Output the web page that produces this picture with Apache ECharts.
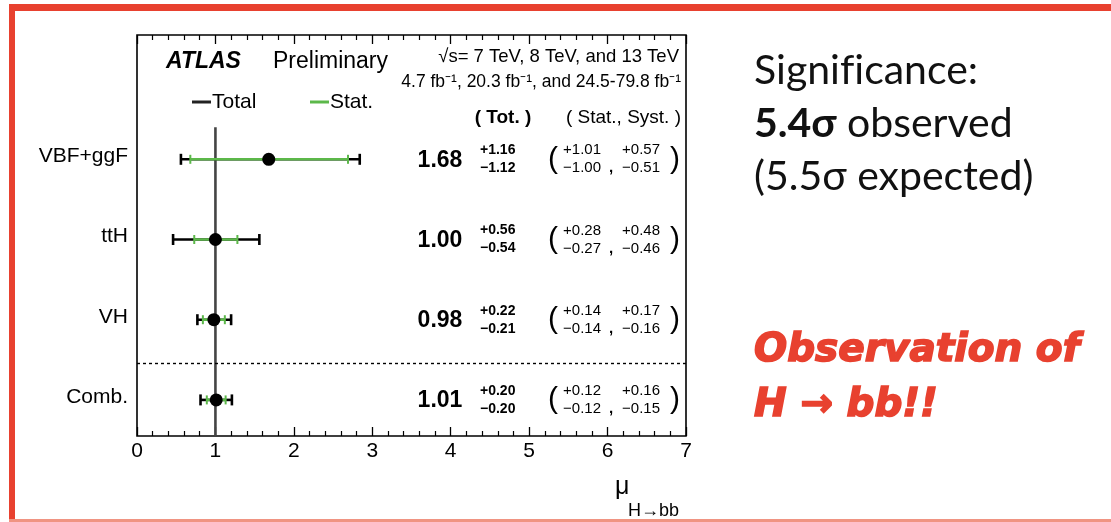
<!DOCTYPE html>
<html>
<head>
<meta charset="utf-8">
<script src="https://cdn.jsdelivr.net/npm/echarts@6/dist/echarts.min.js"></script>
<style>html,body{margin:0;padding:0;background:#fff;}#c{width:1111px;height:522px;}</style>
</head>
<body>
<div id="c"></div>
<script>
// ---- data ----
const categories = ['VBF+ggF', 'ttH', 'VH', 'Comb.'];
const mu      = [1.68, 1.00, 0.98, 1.01];
const totUp   = [1.16, 0.56, 0.22, 0.20];
const totDn   = [1.12, 0.54, 0.21, 0.20];
const statUp  = [1.01, 0.28, 0.14, 0.12];
const statDn  = [1.00, 0.27, 0.14, 0.12];
const systUp  = [0.57, 0.48, 0.17, 0.16];
const systDn  = [0.51, 0.46, 0.16, 0.15];
const xTicks  = [0, 1, 2, 3, 4, 5, 6, 7];
const smLine  = [[1, -0.45], [1, 3.4]];
const separatorY = 0.46;

// ---- style / layout ----
const F = '"Liberation Sans", Arial, Helvetica, sans-serif';
const R = 'Lato, "Open Sans", sans-serif';
const GREEN = '#5cb84a';
const RED = '#e8412f';
const fmt = v => v.toFixed(2);
const nRows = categories.length;
const rowData = categories.map((c, i) => [mu[i], nRows - 1 - i, i]);

function barItem(params, api) {
  const i = api.value(2);
  const yv = api.value(1);
  const y = api.coord([0, yv])[1];
  const X = v => api.coord([v, yv])[0];
  const xc = X(mu[i]);
  const tl = X(mu[i] - totDn[i]), tr = X(mu[i] + totUp[i]);
  const sl = X(mu[i] - statDn[i]), sr = X(mu[i] + statUp[i]);
  const blk = {stroke: '#000', lineWidth: 2.6};
  const grn = {stroke: GREEN, lineWidth: 2.6};
  return {
    type: 'group',
    children: [
      {type: 'line', shape: {x1: tl, y1: y, x2: tr, y2: y}, style: blk},
      {type: 'line', shape: {x1: tl, y1: y - 5.5, x2: tl, y2: y + 5.5}, style: blk},
      {type: 'line', shape: {x1: tr, y1: y - 5.5, x2: tr, y2: y + 5.5}, style: blk},
      {type: 'line', shape: {x1: sl, y1: y, x2: sr, y2: y}, style: grn},
      {type: 'line', shape: {x1: sl, y1: y - 4.5, x2: sl, y2: y + 4.5}, style: {stroke: GREEN, lineWidth: 2}},
      {type: 'line', shape: {x1: sr, y1: y - 4.5, x2: sr, y2: y + 4.5}, style: {stroke: GREEN, lineWidth: 2}},
      {type: 'circle', shape: {cx: xc, cy: y, r: 6.5}, style: {fill: '#000'}}
    ]
  };
}

function txt(x, y, s, font, align, color) {
  return {type: 'text', x: x, y: y,
    style: {text: s, font: font, fill: color || '#000', align: align, verticalAlign: 'middle',
            textAlign: align, textVerticalAlign: 'middle'}};
}

function textItem(params, api) {
  const i = api.value(2);
  const p = api.coord([0, api.value(1)]);
  const y = p[1], gl = p[0];
  return {
    type: 'group',
    children: [
      txt(gl - 9, y - 3, categories[i], '21px ' + F, 'right'),
      txt(440, y + 1, fmt(mu[i]), 'bold 23px ' + F, 'center'),
      txt(480, y - 9, '+' + fmt(totUp[i]), 'bold 14px ' + F, 'left'),
      txt(480, y + 9, '\u2212' + fmt(totDn[i]), 'bold 14px ' + F, 'left'),
      txt(553, y, '(', '30px ' + F, 'center'),
      txt(601, y - 9, '+' + fmt(statUp[i]), '15px ' + F, 'right'),
      txt(601, y + 9, '\u2212' + fmt(statDn[i]), '15px ' + F, 'right'),
      txt(611, y + 9, ',', 'bold 15px ' + F, 'center'),
      txt(660, y - 9, '+' + fmt(systUp[i]), '15px ' + F, 'right'),
      txt(660, y + 9, '\u2212' + fmt(systDn[i]), '15px ' + F, 'right'),
      txt(675, y, ')', '30px ' + F, 'center')
    ]
  };
}

function gtext(x, y, s, font, opts) {
  const st = Object.assign({text: s, font: font, fill: '#000', verticalAlign: 'middle', textVerticalAlign: 'middle'}, opts || {});
  if (st.align) st.textAlign = st.align;
  return {type: 'text', x: x, y: y, style: st};
}

const chart = echarts.init(document.getElementById('c'), null, {renderer: 'canvas'});
const xAxisBase = {
  type: 'value', min: 0, max: 7, interval: 1,
  splitLine: {show: false},
  axisLine: {show: false, onZero: false},
  axisTick: {show: true, inside: true, length: 9, lineStyle: {color: '#000', width: 1.3}},
  minorTick: {show: true, splitNumber: 5, length: 5, lineStyle: {color: '#000', width: 1.2}},
  minorSplitLine: {show: false}
};
chart.setOption({
  animation: false,
  backgroundColor: '#fff',
  grid: {left: 137, right: 425, top: 35, bottom: 86, show: true, borderColor: '#000', borderWidth: 1.6, backgroundColor: 'transparent'},
  xAxis: [
    Object.assign({}, xAxisBase, {
      position: 'bottom',
      axisLabel: {show: true, margin: 5, color: '#000', fontSize: 21, fontFamily: F,
        formatter: v => (xTicks.indexOf(v) >= 0 ? String(v) : '')}
    }),
    Object.assign({}, xAxisBase, {position: 'top', axisLabel: {show: false}})
  ],
  yAxis: {
    type: 'value', min: -0.45, max: 4.55,
    axisLine: {show: false}, axisTick: {show: false}, axisLabel: {show: false}, splitLine: {show: false}
  },
  series: [
    {
      type: 'line', data: smLine, symbol: 'none', lineStyle: {color: '#444', width: 2.6}, z: 1,
      markLine: {
        silent: true, symbol: 'none', label: {show: false},
        lineStyle: {color: '#000', type: [3, 3], width: 1.4},
        data: [{yAxis: separatorY}]
      }
    },
    {type: 'custom', renderItem: barItem, data: rowData, z: 3, clip: false},
    {type: 'custom', renderItem: textItem, data: rowData, z: 3, clip: false}
  ],
  graphic: [
    // frame
    {type: 'rect', shape: {x: 9, y: 4, width: 6, height: 518}, style: {fill: RED}, z: 10},
    {type: 'rect', shape: {x: 9, y: 4, width: 1102, height: 7}, style: {fill: RED}, z: 10},
    {type: 'rect', shape: {x: 9, y: 519, width: 1102, height: 3}, style: {fill: '#f09482'}, z: 10},
    // header
    gtext(166, 62, 'ATLAS', 'italic bold 23px ' + F),
    gtext(273, 62, 'Preliminary', '23px ' + F),
    gtext(679, 57, '\u221As= 7 TeV, 8 TeV, and 13 TeV', '18.5px ' + F, {align: 'right'}),
    gtext(681, 82, '4.7 fb\u207B\u00B9, 20.3 fb\u207B\u00B9, and 24.5-79.8 fb\u207B\u00B9', '17.5px ' + F, {align: 'right'}),
    // legend
    {type: 'line', shape: {x1: 192, y1: 102, x2: 211, y2: 102}, style: {stroke: '#222', lineWidth: 3}},
    gtext(212, 102, 'Total', '21px ' + F),
    {type: 'line', shape: {x1: 310, y1: 102, x2: 329, y2: 102}, style: {stroke: GREEN, lineWidth: 3}},
    gtext(330, 102, 'Stat.', '21px ' + F),
    gtext(503, 118, '( Tot. )', 'bold 19px ' + F, {align: 'center'}),
    gtext(681, 118, '( Stat., Syst. )', '19px ' + F, {align: 'right'}),
    // x axis title
    gtext(615, 487, '\u03BC', '25px ' + F),
    gtext(628, 511, 'H\u2192bb', '18px ' + F),
    // right-hand annotation
    gtext(754, 71, 'Signi\u200Cf\u200Cicance:', '41px ' + R, {fill: '#111'}),
    gtext(754, 124, '{b|5.4\u03C3} observed', '41px ' + R, {fill: '#111',
      rich: {b: {fontWeight: 'bold', fontSize: 41, fontFamily: 'Lato', fill: '#111', color: '#111'}}}),
    gtext(754, 177, '(5.5\u03C3 expected)', '41px ' + R, {fill: '#111'}),
    gtext(754, 351, 'Observation of', 'italic bold 39px "DejaVu Sans", sans-serif', {fill: RED, stroke: RED, lineWidth: 1.6}),
    gtext(754, 406, 'H \u2192 bb!!', 'italic bold 39px "DejaVu Sans", sans-serif', {fill: RED, stroke: RED, lineWidth: 1.6})
  ]
});
</script>
</body>
</html>
